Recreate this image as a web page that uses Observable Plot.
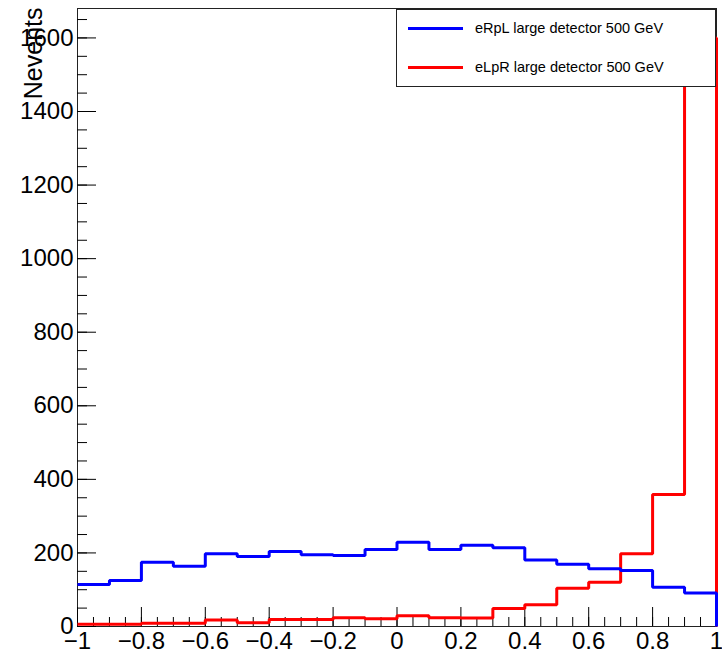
<!DOCTYPE html>
<html>
<head>
<meta charset="utf-8">
<script src="https://cdn.jsdelivr.net/npm/d3@7"></script>
<script src="https://cdn.jsdelivr.net/npm/@observablehq/plot@0.6"></script>
<style>
  html, body { margin: 0; padding: 0; background: #fff; overflow: hidden; }
  #wrap { position: relative; width: 722px; height: 656px; font-family: "Liberation Sans", Arial, Helvetica, sans-serif; }
  #wrap svg { display: block; }
  #legend { position: absolute; left: 396px; top: 9px; width: 318px; height: 76px; background: #fff; border: 1px solid #222; box-sizing: content-box; }
  .entry { position: absolute; left: 11px; height: 20px; display: flex; align-items: center; font-size: 14.5px; color: #000; white-space: nowrap; }
  .swatch { width: 55px; height: 0; border-top: 3px solid; margin-right: 12px; }
</style>
</head>
<body>
<div id="wrap"></div>
<script>
// Bin edges (20 bins from -1 to 1)
const binEdges = [-1, -0.9, -0.8, -0.7, -0.6, -0.5, -0.4, -0.3, -0.2, -0.1, 0, 0.1, 0.2, 0.3, 0.4, 0.5, 0.6, 0.7, 0.8, 0.9, 1];
// Series values per bin
const eRpL = [114, 125, 175, 164, 198, 190, 204, 195, 193, 209, 229, 209, 221, 214, 181, 169, 157, 152, 107, 91];
const eLpR = [6, 6, 9, 9, 18, 10, 19, 19, 24, 21, 29, 24, 23, 49, 59, 104, 120, 198, 359, 1600];
const seriesNames = ["eRpL large detector 500 GeV", "eLpR large detector 500 GeV"];
const seriesColors = ["#0000ff", "#ff0000"];
// Tick labels
const xTicks = [-1, -0.8, -0.6, -0.4, -0.2, 0, 0.2, 0.4, 0.6, 0.8, 1];
const yTicks = [0, 200, 400, 600, 800, 1000, 1200, 1400, 1600];
const xMinor = d3.range(-1, 1.0001, 0.05).map(v => +v.toFixed(2));
const yMinor = d3.range(0, 1651, 50);
const yLabel = "Nevents";

function stepPoints(values, name) {
  const pts = [];
  values.forEach((v, i) => {
    pts.push({x: binEdges[i], y: v, s: name});
    pts.push({x: binEdges[i + 1], y: v, s: name});
  });
  pts.push({x: binEdges[binEdges.length - 1], y: 0, s: name});
  return pts;
}

const W = 722, H = 656;
const mL = 77, mR = 6, mT = 8, mB = 30;
const pw = W - mL - mR, ph = H - mT - mB;
const fmt = d => String(+(+d).toFixed(2)).replace("-", "\u2212");

const chart = Plot.plot({
  width: W, height: H,
  marginLeft: mL, marginRight: mR, marginTop: mT, marginBottom: mB,
  style: {fontFamily: '"Liberation Sans", Arial, Helvetica, sans-serif', color: "#000", background: "#fff", overflow: "visible"},
  x: {domain: [-1, 1]},
  y: {domain: [0, 1680]},
  marks: [
    Plot.frame({stroke: "#222", strokeWidth: 1}),
    Plot.tickX(xMinor, {x: d => d, insetTop: ph - 9, stroke: "#000", strokeWidth: 1}),
    Plot.tickX(xTicks, {x: d => d, insetTop: ph - 19, stroke: "#000", strokeWidth: 1}),
    Plot.tickY(yMinor, {y: d => d, insetRight: pw - 10, stroke: "#000", strokeWidth: 1}),
    Plot.tickY(yTicks, {y: d => d, insetRight: pw - 19, stroke: "#000", strokeWidth: 1}),
    Plot.axisX(xTicks, {tickSize: 0, tickPadding: 5, tickFormat: fmt, fontSize: 24, label: null}),
    Plot.axisY(yTicks, {tickSize: 0, tickPadding: 4, tickFormat: fmt, fontSize: 24, label: null}),
    Plot.line(stepPoints(eLpR, seriesNames[1]), {x: "x", y: "y", stroke: seriesColors[1], strokeWidth: 3, strokeLinejoin: "miter", strokeLinecap: "butt"}),
    Plot.line(stepPoints(eRpL, seriesNames[0]), {x: "x", y: "y", stroke: seriesColors[0], strokeWidth: 3, strokeLinejoin: "miter", strokeLinecap: "butt"}),
    Plot.text([yLabel], {text: d => d, frameAnchor: "top-left", rotate: -90, textAnchor: "end", dx: -53, dy: -1, fontSize: 25, fill: "#000"})
  ]
});

const wrap = document.getElementById("wrap");
wrap.appendChild(chart);

const legend = document.createElement("div");
legend.id = "legend";
const tops = [18, 57];
seriesNames.forEach((name, i) => {
  const e = document.createElement("div");
  e.className = "entry";
  e.style.top = (tops[i] - 10) + "px";
  const sw = document.createElement("div");
  sw.className = "swatch";
  sw.style.borderTopColor = seriesColors[i];
  const t = document.createElement("span");
  t.textContent = name;
  e.appendChild(sw); e.appendChild(t);
  legend.appendChild(e);
});
wrap.appendChild(legend);
</script>
</body>
</html>
